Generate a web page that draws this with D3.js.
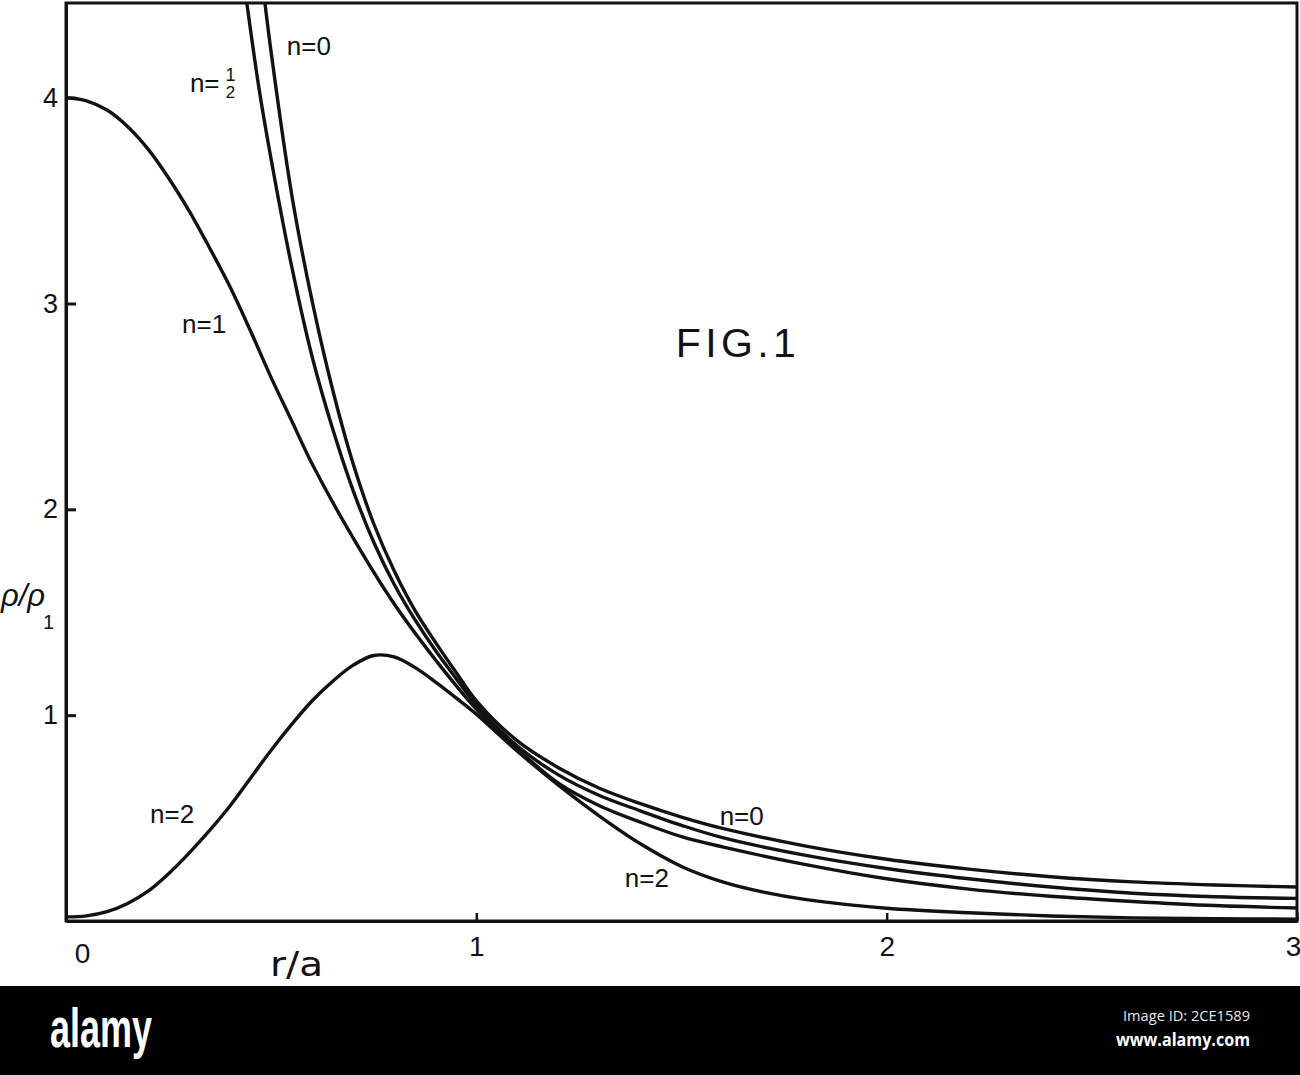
<!DOCTYPE html>
<html>
<head>
<meta charset="utf-8">
<title>FIG.1</title>
<script src="https://cdn.jsdelivr.net/npm/d3@7/dist/d3.min.js"></script>
<style>
  html, body { margin: 0; padding: 0; background: #ffffff; }
  svg { display: block; }
</style>
</head>
<body>
<svg id="chart" width="1300" height="1075"></svg>
<script>
// ---------------- data ----------------
const xTicks = [0, 1, 2, 3];
const yTicks = [1, 2, 3, 4];
const xTickLabels = ["0", "1", "2", "3"];
const yTickLabels = ["1", "2", "3", "4"];
const seriesNames = ["n=0", "n=1/2", "n=1", "n=2"];

// n = 0
const rN0   = [0.48,0.50,0.55,0.60,0.65,0.70,0.75,0.80,0.85,0.90,0.95,1.00,1.10,1.20,1.30,1.40,1.50,1.60,1.80,2.00,2.20,2.40,2.60,2.80,3.00];
const rhoN0 = [4.54,4.22,3.53,3.01,2.58,2.22,1.93,1.70,1.51,1.355,1.21,1.07,0.875,0.745,0.645,0.57,0.505,0.45,0.365,0.30,0.252,0.215,0.19,0.175,0.165];

// n = 1/2
const rNHalf   = [0.43,0.44,0.47,0.50,0.55,0.60,0.65,0.70,0.75,0.80,0.85,0.90,0.95,1.00,1.10,1.20,1.30,1.40,1.50,1.60,1.80,2.00,2.20,2.40,2.60,2.80,3.00];
const rhoNHalf = [4.62,4.47,4.05,3.70,3.18,2.74,2.39,2.09,1.84,1.635,1.465,1.315,1.18,1.05,0.85,0.71,0.61,0.535,0.465,0.405,0.32,0.255,0.205,0.165,0.135,0.118,0.11];

// n = 1
const rN1   = [0,0.05,0.10,0.15,0.20,0.25,0.30,0.35,0.40,0.45,0.50,0.55,0.60,0.70,0.80,0.90,1.00,1.10,1.20,1.30,1.40,1.50,1.60,1.80,2.00,2.20,2.40,2.60,2.80,3.00];
const rhoN1 = [4.00,3.985,3.94,3.86,3.75,3.61,3.45,3.27,3.08,2.865,2.64,2.43,2.22,1.86,1.54,1.27,1.03,0.835,0.67,0.56,0.48,0.41,0.36,0.275,0.205,0.155,0.12,0.095,0.075,0.063];

// n = 2
const rN2   = [0,0.05,0.10,0.15,0.20,0.25,0.30,0.35,0.40,0.45,0.50,0.55,0.60,0.65,0.70,0.75,0.80,0.85,0.90,0.95,1.00,1.05,1.10,1.20,1.30,1.40,1.50,1.60,1.70,1.80,2.00,2.20,2.40,2.60,2.80,3.00];
const rhoN2 = [0.02,0.025,0.045,0.085,0.145,0.23,0.33,0.44,0.56,0.695,0.83,0.955,1.07,1.165,1.243,1.29,1.283,1.232,1.162,1.085,1.005,0.915,0.825,0.66,0.51,0.375,0.265,0.19,0.14,0.105,0.062,0.04,0.024,0.015,0.011,0.009];

// curve annotations (data coordinates of the left end / baseline)
const labelText = ["n=0", "n=", "n=1", "n=2", "n=0", "n=2"];
const labelR    = [0.538, 0.302, 0.283, 0.205, 1.593, 1.362];
const labelRho  = [4.208, 4.028, 2.857, 0.476, 0.466, 0.165];

// ---------------- drawing ----------------
const ink = "#121212";
const fontMain = "'Liberation Sans', Arial, sans-serif";
const svg = d3.select("#chart");

svg.append("rect").attr("x", 0).attr("y", 0).attr("width", 1300).attr("height", 1075).attr("fill", "#ffffff");

const x = d3.scaleLinear().domain([0, 3]).range([66, 1297]);
const y = d3.scaleLinear().domain([0, 4.46]).range([921, 3]);

// clip region = plot frame
svg.append("defs").append("clipPath").attr("id", "plotClip")
  .append("rect")
  .attr("x", x(0)).attr("y", y(4.46))
  .attr("width", x(3) - x(0)).attr("height", y(0) - y(4.46));

// curves
const series = [
  {name: seriesNames[0], r: rN0, rho: rhoN0},
  {name: seriesNames[1], r: rNHalf, rho: rhoNHalf},
  {name: seriesNames[2], r: rN1, rho: rhoN1},
  {name: seriesNames[3], r: rN2, rho: rhoN2}
];
const line = d3.line()
  .x(d => x(d[0]))
  .y(d => y(d[1]))
  .curve(d3.curveCatmullRom.alpha(0.5));

svg.append("g").attr("clip-path", "url(#plotClip)")
  .selectAll("path")
  .data(series)
  .join("path")
  .attr("d", s => line(s.r.map((v, i) => [v, s.rho[i]])))
  .attr("fill", "none")
  .attr("stroke", ink)
  .attr("stroke-width", 3.4)
  .attr("stroke-linejoin", "round")
  .attr("stroke-linecap", "round");

// frame (top and right edges)
svg.append("rect")
  .attr("x", x(0)).attr("y", y(4.46))
  .attr("width", x(3) - x(0)).attr("height", y(0) - y(4.46))
  .attr("fill", "none").attr("stroke", ink).attr("stroke-width", 3);

// y axis
const yAxis = svg.append("g")
  .attr("transform", `translate(${x(0)},0)`)
  .call(d3.axisLeft(y).tickValues(yTicks).tickFormat((d, i) => yTickLabels[i])
        .tickSizeInner(-10).tickSizeOuter(0).tickPadding(8));
yAxis.select(".domain").attr("stroke", ink).attr("stroke-width", 3);
yAxis.selectAll(".tick line").attr("stroke", ink).attr("stroke-width", 3);
yAxis.selectAll(".tick text")
  .attr("fill", ink).attr("font-family", fontMain).attr("font-size", 27);

// x axis
const xAxis = svg.append("g")
  .attr("transform", `translate(0,${y(0)})`)
  .call(d3.axisBottom(x).tickValues(xTicks).tickFormat((d, i) => xTickLabels[i])
        .tickSizeInner(-8).tickSizeOuter(0).tickPadding(13));
xAxis.select(".domain").attr("stroke", ink).attr("stroke-width", 3);
xAxis.selectAll(".tick line").attr("stroke", ink).attr("stroke-width", 2.5);
xAxis.selectAll(".tick text")
  .attr("fill", ink).attr("font-family", fontMain).attr("font-size", 28)
  .attr("dx", d => d === 0 ? 16 : (d === 3 ? -4 : 0))
  .attr("dy", d => d === 0 ? "1.05em" : "0.8em");

// axis titles
svg.append("text")
  .attr("x", 270).attr("y", 976)
  .attr("font-family", "'DejaVu Sans', sans-serif").attr("font-size", 34)
  .attr("fill", ink)
  .attr("textLength", 53).attr("lengthAdjust", "spacingAndGlyphs")
  .text("r/a");

svg.append("text")
  .attr("x", 1).attr("y", 606)
  .attr("font-family", fontMain).attr("font-style", "italic").attr("font-size", 31)
  .attr("fill", ink)
  .text("ρ/ρ");
svg.append("text")
  .attr("x", 43).attr("y", 629)
  .attr("font-family", fontMain).attr("font-size", 20)
  .attr("fill", ink)
  .text("1");

// figure title
svg.append("text")
  .attr("x", x(1.486)).attr("y", y(2.74))
  .attr("font-family", fontMain).attr("font-size", 41)
  .attr("fill", ink)
  .attr("textLength", 120).attr("lengthAdjust", "spacing")
  .text("FIG.1");

// curve labels
const lbl = svg.append("g")
  .attr("font-family", fontMain).attr("font-size", 26).attr("fill", ink);
labelText.forEach((t, i) => {
  const el = lbl.append("text")
    .attr("x", x(labelR[i])).attr("y", y(labelRho[i]))
    .text(t);
  if (i === 1) {
    // stacked fraction 1 over 2 after "n="
    const w = el.node().getComputedTextLength();
    const cx = x(labelR[i]) + w + 11;
    lbl.append("text").attr("x", cx).attr("y", y(labelRho[i]) - 11)
      .attr("text-anchor", "middle").attr("font-size", 18).text("1");
    lbl.append("text").attr("x", cx).attr("y", y(labelRho[i]) + 6)
      .attr("text-anchor", "middle").attr("font-size", 17).text("2");
  }
});

// watermark band of the source image
svg.append("rect").attr("x", 0).attr("y", 986).attr("width", 1300).attr("height", 89).attr("fill", "#000");
svg.append("text")
  .attr("x", 50).attr("y", 1047)
  .attr("font-family", fontMain).attr("font-weight", "bold").attr("font-size", 55)
  .attr("fill", "#fff")
  .attr("textLength", 102).attr("lengthAdjust", "spacingAndGlyphs")
  .text("alamy");
svg.append("text")
  .attr("x", 1123).attr("y", 1021)
  .attr("font-family", "'Open Sans', sans-serif").attr("font-size", 14)
  .attr("fill", "#e6e6e6")
  .attr("textLength", 127).attr("lengthAdjust", "spacingAndGlyphs")
  .text("Image ID: 2CE1589");
svg.append("text")
  .attr("x", 1116).attr("y", 1046)
  .attr("font-family", "'Open Sans', sans-serif").attr("font-weight", "bold").attr("font-size", 17)
  .attr("fill", "#ffffff")
  .attr("textLength", 134).attr("lengthAdjust", "spacingAndGlyphs")
  .text("www.alamy.com");
</script>
</body>
</html>
